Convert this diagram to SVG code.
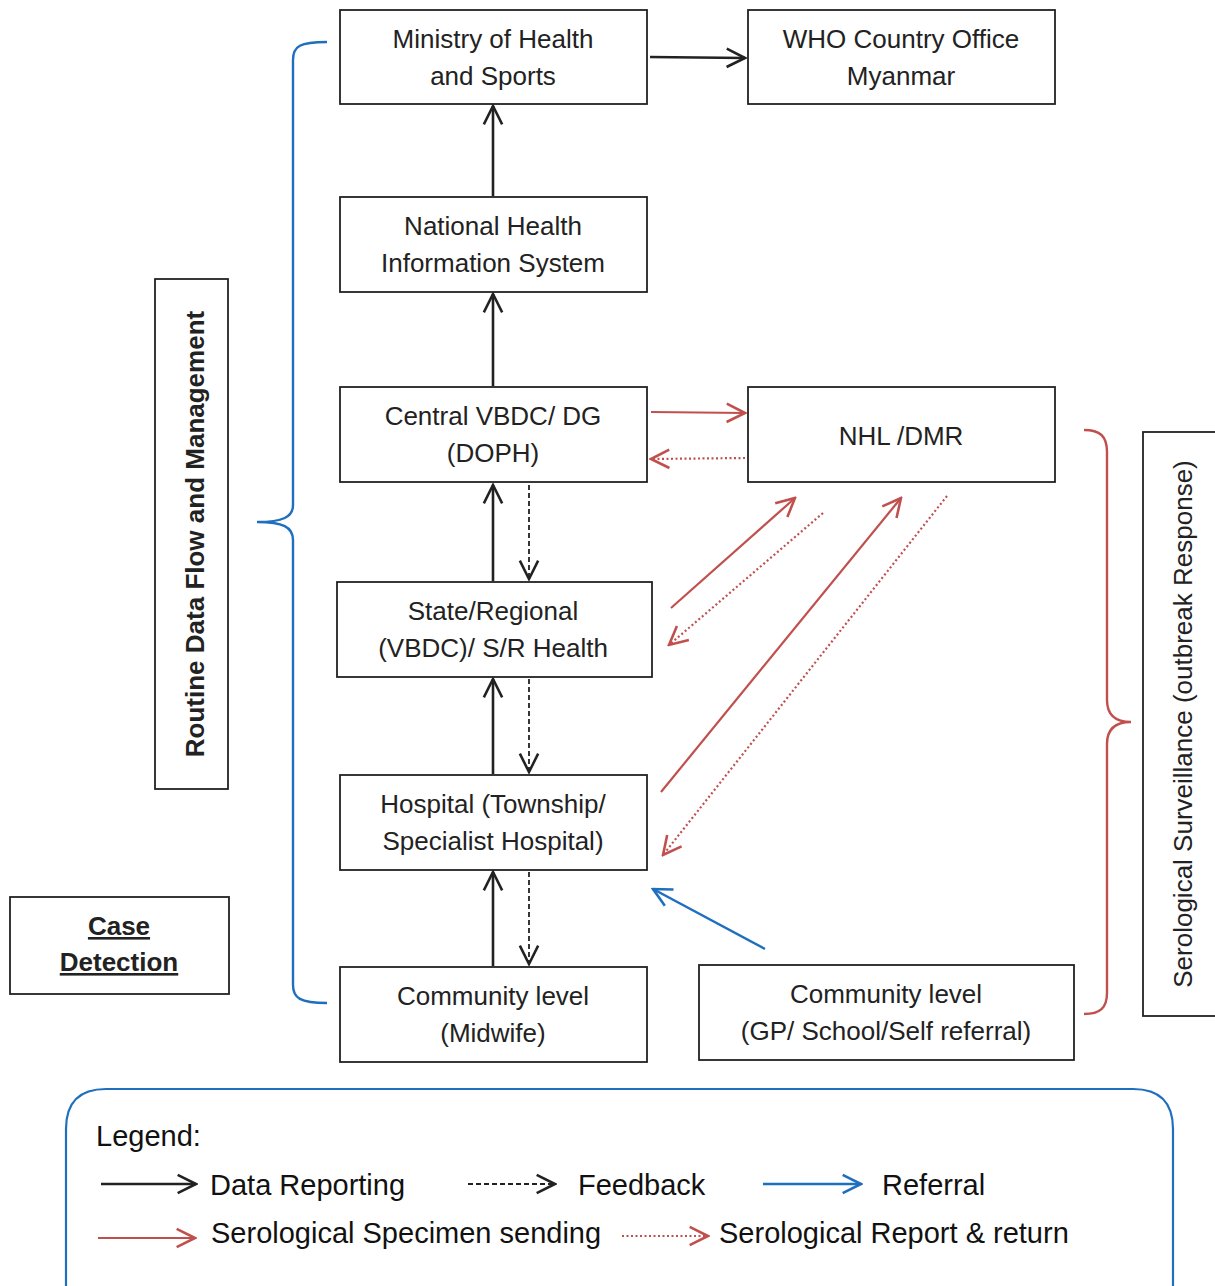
<svg xmlns="http://www.w3.org/2000/svg" width="1215" height="1286" viewBox="0 0 1215 1286">
<defs>
<style>
.box{fill:#fff;stroke:#222;stroke-width:1.8}
.t{font-family:"Liberation Sans",Arial,sans-serif;font-size:26px;fill:#222;text-anchor:middle}
.lg{font-family:"Liberation Sans",Arial,sans-serif;font-size:29px;fill:#111}
.blk{stroke:#222;stroke-width:2.6;fill:none}
.fb{stroke:#222;stroke-width:1.8;fill:none;stroke-dasharray:5,3}
.red{stroke:#c0504d;stroke-width:2.2;fill:none}
.rdot{stroke:#c0504d;stroke-width:2.2;fill:none;stroke-dasharray:2,2.5}
.blu{stroke:#1f6fbf;stroke-width:2.4;fill:none}
</style>
<marker id="mb" viewBox="0 0 12 12" refX="11" refY="6" markerWidth="22" markerHeight="22" markerUnits="userSpaceOnUse" orient="auto"><path d="M1,1 L11,6 L1,11" fill="none" stroke="#222" stroke-width="1.4"/></marker>
<marker id="mr" viewBox="0 0 12 12" refX="11" refY="6" markerWidth="22" markerHeight="22" markerUnits="userSpaceOnUse" orient="auto"><path d="M1,1 L11,6 L1,11" fill="none" stroke="#c0504d" stroke-width="1.4"/></marker>
<marker id="mu" viewBox="0 0 12 12" refX="11" refY="6" markerWidth="22" markerHeight="22" markerUnits="userSpaceOnUse" orient="auto"><path d="M1,1 L11,6 L1,11" fill="none" stroke="#1f6fbf" stroke-width="1.4"/></marker>
</defs>
<rect width="1215" height="1286" fill="#fff"/>

<g id="ministry"><rect class="box" x="340" y="10" width="307" height="94"/><text class="t" x="493" y="48">Ministry of Health</text><text class="t" x="493" y="85">and Sports</text></g>
<g id="who"><rect class="box" x="748" y="10" width="307" height="94"/><text class="t" x="901" y="48">WHO Country Office</text><text class="t" x="901" y="85">Myanmar</text></g>
<g id="nhis"><rect class="box" x="340" y="197" width="307" height="95"/><text class="t" x="493" y="235">National Health</text><text class="t" x="493" y="272">Information System</text></g>
<g id="central"><rect class="box" x="340" y="387" width="307" height="95"/><text class="t" x="493" y="425">Central VBDC/ DG</text><text class="t" x="493" y="462">(DOPH)</text></g>
<g id="nhl"><rect class="box" x="748" y="387" width="307" height="95"/><text class="t" x="901" y="445">NHL /DMR</text></g>
<g id="state"><rect class="box" x="337" y="582" width="315" height="95"/><text class="t" x="493" y="620">State/Regional</text><text class="t" x="493" y="657">(VBDC)/ S/R Health</text></g>
<g id="hospital"><rect class="box" x="340" y="775" width="307" height="95"/><text class="t" x="493" y="813">Hospital (Township/</text><text class="t" x="493" y="850">Specialist Hospital)</text></g>
<g id="midwife"><rect class="box" x="340" y="967" width="307" height="95"/><text class="t" x="493" y="1005">Community level</text><text class="t" x="493" y="1042">(Midwife)</text></g>
<g id="gp"><rect class="box" x="699" y="965" width="375" height="95"/><text class="t" x="886" y="1003">Community level</text><text class="t" x="886" y="1040">(GP/ School/Self referral)</text></g>
<g id="routine"><rect class="box" x="155" y="279" width="73" height="510"/><text class="t" transform="translate(204,534) rotate(-90)" style="font-weight:bold">Routine Data Flow and Management</text></g>
<g id="serological"><rect class="box" x="1143" y="432" width="80" height="584"/><text class="t" transform="translate(1192,724) rotate(-90)">Serological Surveillance (outbreak Response)</text></g>
<g id="case"><rect class="box" x="10" y="897" width="219" height="97"/><text class="t" x="119" y="935" style="font-weight:bold;text-decoration:underline">Case</text><text class="t" x="119" y="971" style="font-weight:bold;text-decoration:underline">Detection</text></g>

<g id="braces">
<path d="M327,42 C300,42 293,46 293,60 L293,505 C293,517 283,522 257,522 C283,522 293,527 293,540 L293,985 C293,998 300,1003 327,1003" fill="none" stroke="#1f6fbf" stroke-width="2.4"/>
<path d="M1084,430 C1100,430 1107,436 1107,452 L1107,700 C1107,715 1115,722 1131,722 C1115,722 1107,729 1107,744 L1107,993 C1107,1008 1100,1014 1084,1014" fill="none" stroke="#c0504d" stroke-width="2.4"/>
</g>

<g id="connectors">
<line class="blk" x1="650" y1="57" x2="745" y2="58" marker-end="url(#mb)"/>
<line class="blk" x1="493" y1="196" x2="493" y2="106" marker-end="url(#mb)"/>
<line class="blk" x1="493" y1="386" x2="493" y2="294" marker-end="url(#mb)"/>
<line class="blk" x1="493" y1="581" x2="493" y2="485" marker-end="url(#mb)"/>
<line class="fb" x1="529" y1="485" x2="529" y2="579" marker-end="url(#mb)"/>
<line class="blk" x1="493" y1="774" x2="493" y2="679" marker-end="url(#mb)"/>
<line class="fb" x1="529" y1="679" x2="529" y2="772" marker-end="url(#mb)"/>
<line class="blk" x1="493" y1="966" x2="493" y2="872" marker-end="url(#mb)"/>
<line class="fb" x1="529" y1="872" x2="529" y2="964" marker-end="url(#mb)"/>
<line class="red" x1="651" y1="412" x2="745" y2="413" marker-end="url(#mr)"/>
<line class="rdot" x1="745" y1="458" x2="651" y2="459" marker-end="url(#mr)"/>
<line class="red" x1="671" y1="608" x2="795" y2="498" marker-end="url(#mr)"/>
<line class="rdot" x1="823" y1="513" x2="669" y2="645" marker-end="url(#mr)"/>
<line class="red" x1="661" y1="792" x2="901" y2="498" marker-end="url(#mr)"/>
<line class="rdot" x1="947" y1="496" x2="663" y2="855" marker-end="url(#mr)"/>
<line class="blu" x1="765" y1="949" x2="653" y2="889" marker-end="url(#mu)"/>
</g>

<g id="legend">
<path d="M106,1089 H1133 Q1173,1089 1173,1129 V1300 H66 V1129 Q66,1089 106,1089 Z" fill="none" stroke="#1f6fbf" stroke-width="2.2"/>
<text class="lg" x="96" y="1146">Legend:</text>
<line class="blk" x1="101" y1="1184" x2="196" y2="1184" marker-end="url(#mb)"/>
<text class="lg" x="210" y="1195">Data Reporting</text>
<line class="fb" x1="468" y1="1184" x2="555" y2="1184" marker-end="url(#mb)"/>
<text class="lg" x="578" y="1195">Feedback</text>
<line class="blu" x1="763" y1="1184" x2="861" y2="1184" marker-end="url(#mu)"/>
<text class="lg" x="882" y="1195">Referral</text>
<line class="red" x1="98" y1="1238" x2="195" y2="1238" marker-end="url(#mr)"/>
<text class="lg" x="211" y="1243">Serological Specimen sending</text>
<line class="rdot" x1="622" y1="1236" x2="708" y2="1236" marker-end="url(#mr)"/>
<text class="lg" x="719" y="1243">Serological Report &amp; return</text>
</g>
</svg>
